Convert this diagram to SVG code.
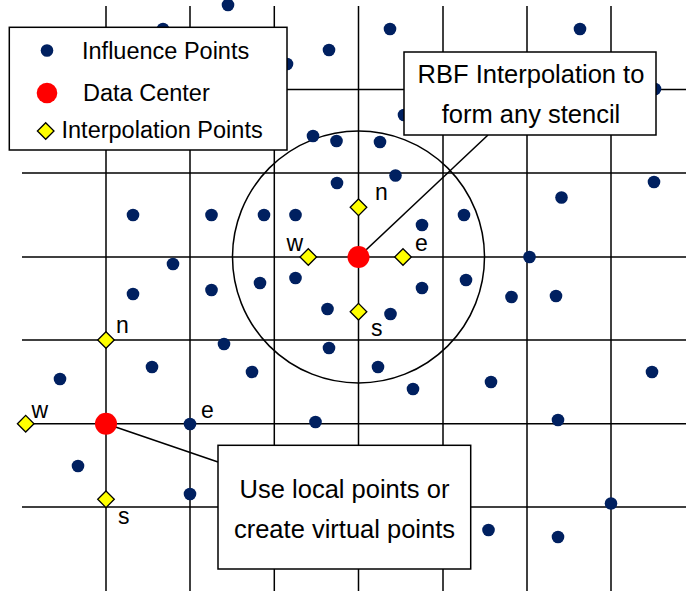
<svg xmlns="http://www.w3.org/2000/svg" xmlns:xlink="http://www.w3.org/1999/xlink" width="686" height="596" viewBox="0 0 686 596">
<style>
.grid line{stroke:#000;stroke-width:1.5}
.dot{fill:#002060}
.dc{fill:#FF0000}
.dia{fill:#FFFF00;stroke:#000;stroke-width:1.3}
.box{fill:#fff;stroke:#000;stroke-width:1.5}
.conn line{stroke:#000;stroke-width:1.5}
text{font-family:"Liberation Sans",Arial,sans-serif;fill:#000}
.leg{font-size:23.5px}
.call{font-size:25.5px;text-anchor:middle}
.lbl{font-size:23px}
</style>
<defs>
<circle id="d" r="6.3" class="dot"/>
<path id="p" d="M0,-8.3 L8.3,0 L0,8.3 L-8.3,0Z" class="dia"/>
</defs>
<rect width="686" height="596" fill="#fff"/>
<g id="grid" class="grid">
<line x1="106" y1="6" x2="106" y2="591"/>
<line x1="190" y1="6" x2="190" y2="591"/>
<line x1="274.3" y1="6" x2="274.3" y2="591"/>
<line x1="358.5" y1="6" x2="358.5" y2="591"/>
<line x1="443" y1="6" x2="443" y2="591"/>
<line x1="527" y1="6" x2="527" y2="591"/>
<line x1="611" y1="6" x2="611" y2="591"/>
<line x1="22" y1="89.5" x2="686" y2="89.5"/>
<line x1="22" y1="173" x2="686" y2="173"/>
<line x1="22" y1="257" x2="686" y2="257"/>
<line x1="22" y1="340" x2="686" y2="340"/>
<line x1="22" y1="423.7" x2="686" y2="423.7"/>
<line x1="22" y1="507" x2="686" y2="507"/>
</g>
<circle id="stencil-circle" cx="358.5" cy="257" r="126" fill="none" stroke="#000" stroke-width="1.5"/>
<g id="influence-points">
<use xlink:href="#d" x="228" y="5"/>
<use xlink:href="#d" x="163" y="29"/>
<use xlink:href="#d" x="390" y="29"/>
<use xlink:href="#d" x="580" y="29"/>
<use xlink:href="#d" x="329" y="50"/>
<use xlink:href="#d" x="287" y="64"/>
<use xlink:href="#d" x="655" y="89"/>
<use xlink:href="#d" x="404" y="115"/>
<use xlink:href="#d" x="313" y="136"/>
<use xlink:href="#d" x="336.5" y="141"/>
<use xlink:href="#d" x="380" y="142"/>
<use xlink:href="#d" x="337" y="183"/>
<use xlink:href="#d" x="395.5" y="175.5"/>
<use xlink:href="#d" x="654" y="182"/>
<use xlink:href="#d" x="561.5" y="197.5"/>
<use xlink:href="#d" x="133" y="215"/>
<use xlink:href="#d" x="211.5" y="215"/>
<use xlink:href="#d" x="264" y="215"/>
<use xlink:href="#d" x="295.5" y="215"/>
<use xlink:href="#d" x="464" y="215"/>
<use xlink:href="#d" x="422" y="225"/>
<use xlink:href="#d" x="173" y="264"/>
<use xlink:href="#d" x="529.5" y="257"/>
<use xlink:href="#d" x="260" y="283"/>
<use xlink:href="#d" x="295.5" y="278"/>
<use xlink:href="#d" x="466" y="280"/>
<use xlink:href="#d" x="133" y="294"/>
<use xlink:href="#d" x="211.5" y="290"/>
<use xlink:href="#d" x="422" y="288"/>
<use xlink:href="#d" x="511.5" y="297"/>
<use xlink:href="#d" x="556" y="296"/>
<use xlink:href="#d" x="327.5" y="309"/>
<use xlink:href="#d" x="390.5" y="314"/>
<use xlink:href="#d" x="224" y="344"/>
<use xlink:href="#d" x="329" y="348"/>
<use xlink:href="#d" x="152" y="367"/>
<use xlink:href="#d" x="252" y="372"/>
<use xlink:href="#d" x="378" y="367"/>
<use xlink:href="#d" x="413" y="389"/>
<use xlink:href="#d" x="491" y="382"/>
<use xlink:href="#d" x="652" y="372"/>
<use xlink:href="#d" x="60" y="379"/>
<use xlink:href="#d" x="190" y="424"/>
<use xlink:href="#d" x="315.5" y="422"/>
<use xlink:href="#d" x="558" y="420"/>
<use xlink:href="#d" x="78" y="466"/>
<use xlink:href="#d" x="190" y="494"/>
<use xlink:href="#d" x="611" y="503.5"/>
<use xlink:href="#d" x="488.5" y="530"/>
<use xlink:href="#d" x="558" y="537"/>
</g>
<g id="connectors" class="conn">
<line x1="358.5" y1="257" x2="488" y2="135"/>
<line x1="106" y1="423.7" x2="218" y2="462"/>
</g>
<g id="data-center-1"><circle class="dc" cx="358.5" cy="257" r="11"/></g>
<g id="data-center-2"><circle class="dc" cx="106" cy="423.7" r="11"/></g>
<g id="stencil-1">
<use xlink:href="#p" x="358.5" y="207.3"/>
<use xlink:href="#p" x="308.3" y="257"/>
<use xlink:href="#p" x="403" y="257"/>
<use xlink:href="#p" x="358.5" y="311.7"/>
<text class="lbl" x="375" y="200">n</text>
<text class="lbl" x="286.5" y="251">w</text>
<text class="lbl" x="415" y="251">e</text>
<text class="lbl" x="371" y="336">s</text>
</g>
<g id="stencil-2">
<use xlink:href="#p" x="106" y="340"/>
<use xlink:href="#p" x="25.7" y="423.7"/>
<use xlink:href="#p" x="106" y="499.3"/>
<text class="lbl" x="116" y="333">n</text>
<text class="lbl" x="31.5" y="418">w</text>
<text class="lbl" x="201" y="418">e</text>
<text class="lbl" x="118" y="524">s</text>
</g>
<g id="legend">
<rect class="box" x="9.3" y="27.3" width="277.7" height="122.7"/>
<circle class="dot" cx="47" cy="50.5" r="6.3"/>
<circle class="dc" cx="47" cy="93" r="10.3"/>
<use xlink:href="#p" x="45.7" y="131"/>
<text class="leg" x="82" y="59">Influence Points</text>
<text class="leg" x="83" y="100.7">Data Center</text>
<text class="leg" x="61.5" y="137.5">Interpolation Points</text>
</g>
<g id="callout-rbf">
<rect class="box" x="404" y="52" width="252" height="83"/>
<text class="call" x="531" y="83">RBF Interpolation to</text>
<text class="call" x="531" y="122.5">form any stencil</text>
</g>
<g id="callout-local">
<rect class="box" x="218" y="445.3" width="252.7" height="123.7"/>
<text class="call" x="344.5" y="497.5">Use local points or</text>
<text class="call" x="344.5" y="537.5">create virtual points</text>
</g>
</svg>
